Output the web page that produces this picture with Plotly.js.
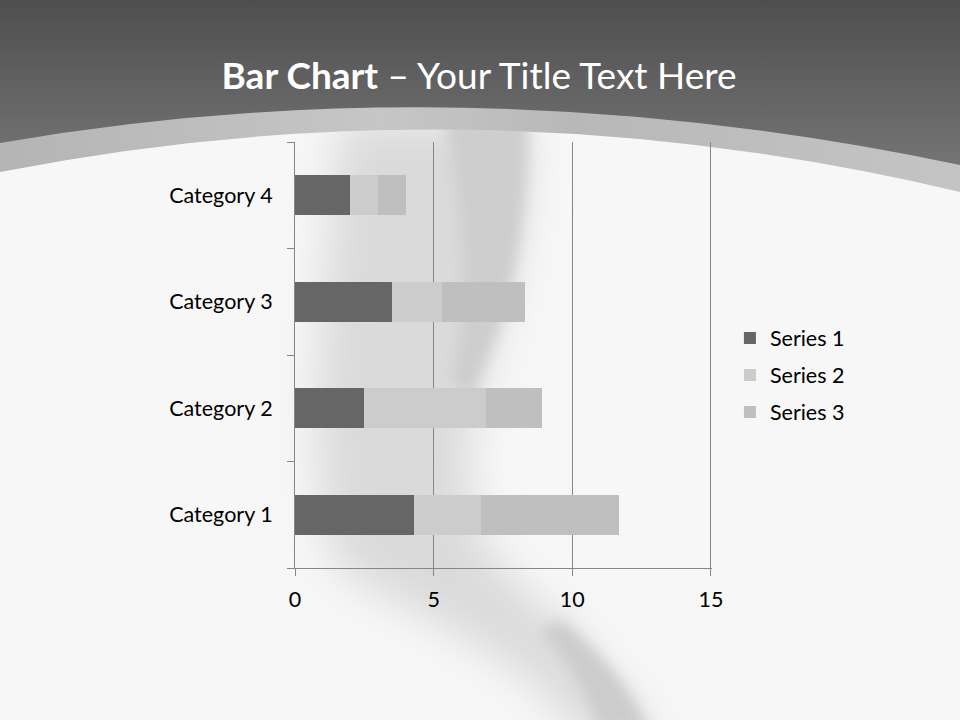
<!DOCTYPE html>
<html>
<head>
<meta charset="utf-8">
<script src="https://cdn.plot.ly/plotly-3.0.1.min.js"></script>
<style>
  html, body { margin:0; padding:0; width:960px; height:720px; overflow:hidden; }
  #bg { position:absolute; left:0; top:0; width:960px; height:720px; z-index:0; }
  #chart { position:absolute; left:0; top:0; width:960px; height:720px; z-index:1; }
</style>
</head>
<body>
<svg id="bg" width="960" height="720" xmlns="http://www.w3.org/2000/svg">
  <defs>
    <linearGradient id="hdr" x1="0" y1="0" x2="0" y2="1">
      <stop offset="0" stop-color="#4e4e4e"/>
      <stop offset="1" stop-color="#747474"/>
    </linearGradient>
    <linearGradient id="band" x1="0" y1="0" x2="1" y2="0">
      <stop offset="0" stop-color="#b4b4b4"/>
      <stop offset="0.4" stop-color="#c6c6c6"/>
      <stop offset="0.6" stop-color="#b8b8b8"/>
      <stop offset="1" stop-color="#c4c4c4"/>
    </linearGradient>
    <filter id="blurA" x="-50%" y="-50%" width="200%" height="200%">
      <feGaussianBlur stdDeviation="22"/>
    </filter>
    <filter id="blurB" x="-50%" y="-50%" width="200%" height="200%">
      <feGaussianBlur stdDeviation="7"/>
    </filter>
  </defs>
  <rect x="0" y="0" width="960" height="720" fill="#f7f7f7"/>
  <path d="M 340,120 L 528,120 C 524,300 480,360 470,430 C 462,520 480,560 560,620 L 660,740 L 580,740 C 540,660 420,620 340,570 C 300,480 320,330 340,120 Z" fill="#dadada" filter="url(#blurA)"/>
  <path d="M 445,120 L 528,120 C 526,260 505,320 470,400 L 450,380 C 470,300 465,230 445,120 Z" fill="#cecece" filter="url(#blurB)"/>
  <path d="M 560,620 C 600,650 630,690 650,730 L 600,730 C 585,690 565,660 540,630 Z" fill="#cccccc" filter="url(#blurB)"/>
  <path d="M 0,0 H 960 V 192 Q 480,78 0,172 Z" fill="url(#band)"/>
  <path d="M 0,0 H 960 V 165 Q 470,62 0,143 Z" fill="url(#hdr)"/>
</svg>
<div id="chart"></div>
<script>
const categories = ['Category 1', 'Category 2', 'Category 3', 'Category 4'];
const seriesNames = ['Series 1', 'Series 2', 'Series 3'];
const series1 = [4.3, 2.5, 3.5, 2];
const series2 = [2.4, 4.4, 1.8, 1];
const series3 = [5, 2, 3, 1];
const xTicks = [0, 5, 10, 15];

const colors = ['#666666', '#cccccc', '#bfbfbf'];
const FONT = "Lato, 'Open Sans', sans-serif";
const idx = categories.map((c, i) => i);

const traces = [series1, series2, series3].map((vals, k) => ({
  type: 'bar',
  orientation: 'h',
  name: seriesNames[k],
  x: vals,
  y: idx,
  marker: { color: colors[k], line: { width: 0 } },
  legendgroup: 'g' + k,
  hoverinfo: 'x+name'
}));

const layout = {
  width: 960,
  height: 720,
  paper_bgcolor: 'rgba(0,0,0,0)',
  plot_bgcolor: 'rgba(0,0,0,0)',
  margin: { l: 295, r: 248, t: 142, b: 152 },
  barmode: 'stack',
  bargap: 0.625,
  font: { family: FONT, size: 21.5, color: '#000000' },
  title: {
    text: '<b>Bar Chart</b> – Your Title Text Here',
    font: { family: FONT, size: 37, color: '#ffffff' },
    x: 0.499, xanchor: 'center',
    xref: 'container', yref: 'container',
    y: 1 - 76 / 720, yanchor: 'middle'
  },
  xaxis: {
    range: [0, 15.04],
    tickvals: xTicks,
    ticktext: xTicks.map(String),
    showgrid: true, gridcolor: '#868686', gridwidth: 1,
    showline: true, linecolor: '#868686', linewidth: 1,
    ticks: 'outside', ticklen: 7, tickcolor: '#868686',
    ticklabelstandoff: 5,
    zeroline: false,
    tickfont: { family: FONT, size: 21.5, color: '#000' },
    fixedrange: true
  },
  yaxis: {
    range: [-0.5, 3.5],
    tickvals: idx,
    ticktext: categories,
    ticks: '',
    showgrid: false,
    zeroline: false,
    showline: true, linecolor: '#868686', linewidth: 1,
    ticklabelstandoff: 17,
    minor: { tickvals: [-0.5, 0.5, 1.5, 2.5, 3.5], ticks: 'outside', ticklen: 7, tickcolor: '#868686', showgrid: false },
    tickfont: { family: FONT, size: 21.5, color: '#000' },
    fixedrange: true
  },
  showlegend: true,
  legend: {
    x: 1.043, xanchor: 'left',
    y: 0.453, yanchor: 'middle',
    traceorder: 'grouped',
    tracegroupgap: 6,
    bgcolor: 'rgba(0,0,0,0)',
    font: { family: FONT, size: 21.5, color: '#000' }
  }
};

Plotly.newPlot('chart', traces, layout, { displayModeBar: false, staticPlot: true });
</script>
</body>
</html>
